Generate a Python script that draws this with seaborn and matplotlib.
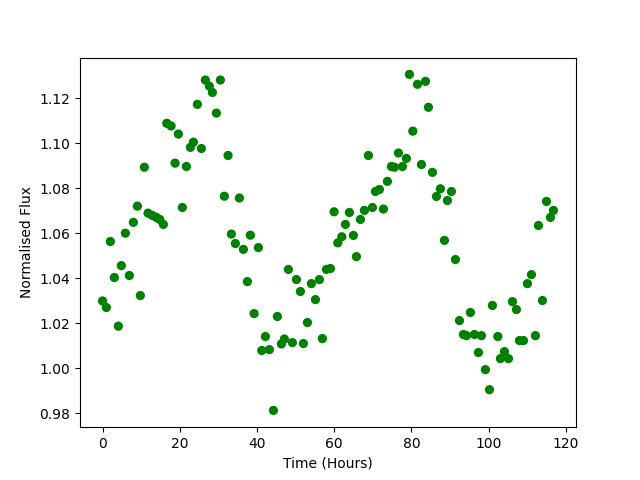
import matplotlib
matplotlib.use("Agg")
import matplotlib.pyplot as plt
import numpy as np
import pandas as pd
import seaborn as sns

# time stamps (hours)
hours = [
    0.00, 0.98, 2.02, 3.06, 4.09, 4.87, 5.91, 6.94, 7.98, 9.02,
    9.79, 10.83, 11.79, 12.90, 13.94, 14.82, 15.75, 16.63, 17.75, 18.78,
    19.64, 20.67, 21.71, 22.75, 23.52, 24.56, 25.60, 26.63, 27.67, 28.45,
    29.48, 30.52, 31.55, 32.51, 33.37, 34.40, 35.44, 36.48, 37.51, 38.29,
    39.25, 40.36, 41.24, 42.18, 43.21, 44.25, 45.28, 46.32, 47.10, 48.13,
    49.17, 50.21, 51.24, 52.02, 53.06, 54.09, 55.13, 56.17, 56.94, 57.98,
    59.02, 59.97, 60.93, 61.97, 62.90, 63.94, 64.97, 65.75, 66.79, 67.82,
    68.86, 69.90, 70.67, 71.71, 72.75, 73.78, 74.82, 75.60, 76.63, 77.67,
    78.70, 79.48, 80.36, 81.55, 82.59, 83.63, 84.40, 85.44, 86.48, 87.51,
    88.55, 89.33, 90.36, 91.40, 92.44, 93.47, 94.25, 95.28, 96.32, 97.36,
    98.13, 99.17, 100.21, 100.98, 102.38, 103.06, 104.09, 105.13, 106.17, 107.20,
    107.98, 109.02, 110.05, 111.09, 112.12, 112.90, 113.94, 114.97, 116.01, 116.79,
]

flux = [
    1.0299, 1.0270, 1.0563, 1.0403, 1.0187, 1.0456, 1.0600, 1.0412, 1.0648, 1.0720,
    1.0323, 1.0893, 1.0689, 1.0679, 1.0670, 1.0661, 1.0639, 1.1088, 1.1076, 1.0911,
    1.1040, 1.0714, 1.0896, 1.0981, 1.1004, 1.1172, 1.0976, 1.1280, 1.1253, 1.1225,
    1.1133, 1.1280, 1.0764, 1.0945, 1.0596, 1.0554, 1.0756, 1.0528, 1.0385, 1.0591,
    1.0243, 1.0536, 1.0079, 1.0141, 1.0083, 0.9813, 1.0230, 1.0108, 1.0130, 1.0439,
    1.0114, 1.0394, 1.0341, 1.0110, 1.0203, 1.0376, 1.0305, 1.0394, 1.0132, 1.0439,
    1.0443, 1.0695, 1.0557, 1.0584, 1.0639, 1.0692, 1.0590, 1.0496, 1.0661, 1.0701,
    1.0945, 1.0714, 1.0785, 1.0794, 1.0707, 1.0830, 1.0896, 1.0893, 1.0956, 1.0896,
    1.0932, 1.1305, 1.1053, 1.1261, 1.0905, 1.1274, 1.1159, 1.0870, 1.0763, 1.0797,
    1.0568, 1.0745, 1.0785, 1.0483, 1.0212, 1.0150, 1.0145, 1.0248, 1.0150, 1.0070,
    1.0145, 0.9994, 0.9905, 1.0279, 1.0141, 1.0043, 1.0074, 1.0043, 1.0296, 1.0261,
    1.0123, 1.0123, 1.0376, 1.0416, 1.0145, 1.0634, 1.0301, 1.0741, 1.0670, 1.0701,
]

df = pd.DataFrame({"Time (Hours)": hours, "Normalised Flux": flux})

fig, ax = plt.subplots(figsize=(6.4, 4.8), dpi=100)
sns.scatterplot(data=df, x="Time (Hours)", y="Normalised Flux", ax=ax,
                color="green", s=44, linewidth=0, edgecolor="none")
ax.set_xlabel("Time (Hours)")
ax.set_ylabel("Normalised Flux")
ax.set_xticks([0, 20, 40, 60, 80, 100, 120])

fig.savefig("out.png", dpi=100)
